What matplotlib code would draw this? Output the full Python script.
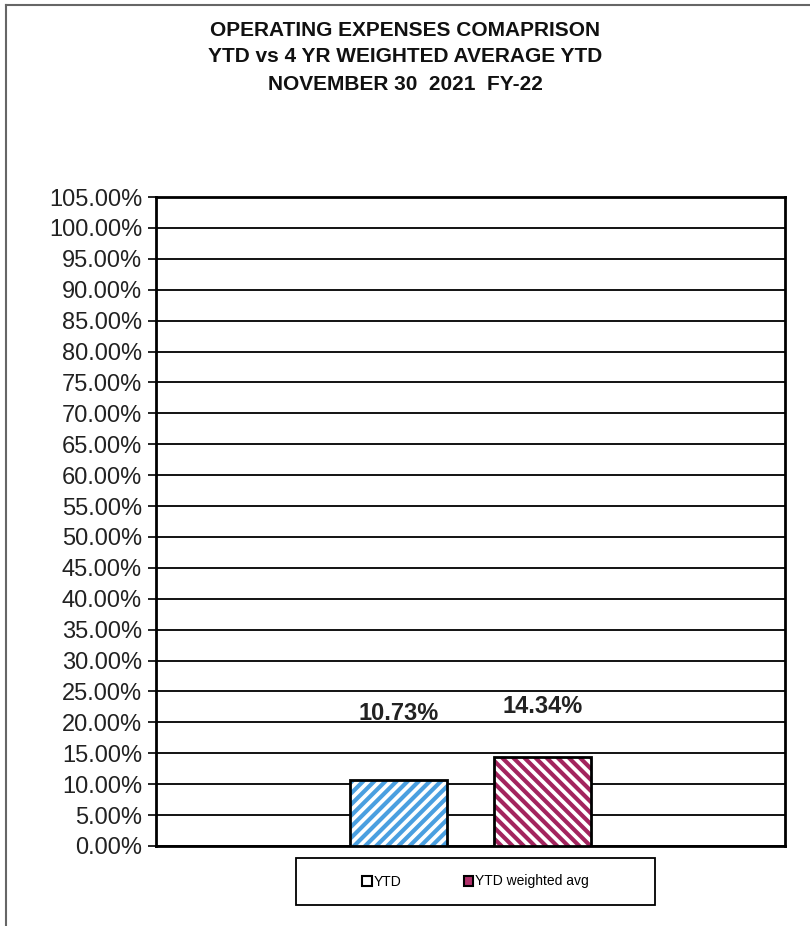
import matplotlib
matplotlib.use("Agg")
import matplotlib.pyplot as plt
from matplotlib.patches import Patch, Rectangle
from matplotlib.lines import Line2D
from matplotlib.ticker import FuncFormatter, MultipleLocator

plt.rcParams['font.family'] = ['Liberation Sans', 'DejaVu Sans']
plt.rcParams['hatch.linewidth'] = 3.0

series = ["YTD", "YTD weighted avg"]
values = [10.73, 14.34]
labels = ["10.73%", "14.34%"]
hatch_colors = ["#4a9fe0", "#a3245e"]
legend_fill = ["white", "#b0306a"]
hatches = ["///", "\\\\\\"]
title_lines = ["OPERATING EXPENSES COMAPRISON",
               "YTD vs 4 YR WEIGHTED AVERAGE YTD",
               "NOVEMBER 30  2021  FY-22"]

W, H = 810, 926
fig = plt.figure(figsize=(W / 100, H / 100), dpi=100)
ax = fig.add_axes([156 / W, 1 - 846 / H, (785 - 156) / W, (846 - 197) / H])

offsets = [-0.115, 0.115]
width = 0.154
label_pad = [66, 51]  # pixels from bar top to label centre (approx)
for i, (v, hc, h) in enumerate(zip(values, hatch_colors, hatches)):
    ax.bar(offsets[i], v, width=width, facecolor="white", edgecolor=hc,
           hatch=h, linewidth=0, zorder=3)
    ax.bar(offsets[i], v, width=width, fill=False, edgecolor="black",
           linewidth=2, zorder=4)
    ax.annotate(labels[i], xy=(offsets[i], v), xytext=(0, label_pad[i] * 0.72),
                textcoords="offset points", ha="center", va="center",
                fontsize=17, fontweight="bold", color="#222222", zorder=5)

ax.set_xlim(-0.5, 0.5)
ax.set_ylim(0, 105)
ax.yaxis.set_major_locator(MultipleLocator(5))
ax.yaxis.set_major_formatter(FuncFormatter(lambda y, _: f"{y:.2f}%"))
ax.set_xticks([])
ax.tick_params(axis="y", length=6, width=1.2, labelsize=17, pad=4,
               labelcolor="#222222")
ax.grid(axis="y", color="black", linewidth=1.3, zorder=1)
ax.set_axisbelow(True)
for s in ax.spines.values():
    s.set_linewidth(2)
    s.set_color("black")

# title
for k, t in enumerate(title_lines):
    fig.text(405 / W, 1 - (30 + 27 * k) / H, t, ha="center", va="center",
             fontsize=15, fontweight="bold", color="#111111")

# outer border (top and left)
fig.add_artist(Line2D([6 / W, 1], [1 - 5 / H, 1 - 5 / H], color="#666666",
                      linewidth=1.5, transform=fig.transFigure))
fig.add_artist(Line2D([6 / W, 6 / W], [0, 1 - 5 / H], color="#666666",
                      linewidth=1.5, transform=fig.transFigure))

handles = [Patch(facecolor=f, edgecolor="black", linewidth=1.5) for f in legend_fill]
leg = fig.legend(handles, series, loc="center", ncol=2,
                 bbox_to_anchor=(296 / W, 1 - 905 / H, (655 - 296) / W, 47 / H),
                 bbox_transform=fig.transFigure, fontsize=10, frameon=False,
                 handlelength=0.7, handleheight=0.7,
                 handletextpad=0.1, columnspacing=4.5, borderaxespad=0)
fig.add_artist(Rectangle((296 / W, 1 - 905 / H), (655 - 296) / W, 47 / H,
                         fill=False, edgecolor="black", linewidth=1.3,
                         transform=fig.transFigure))

fig.savefig("out.png", dpi=100, facecolor="white")
